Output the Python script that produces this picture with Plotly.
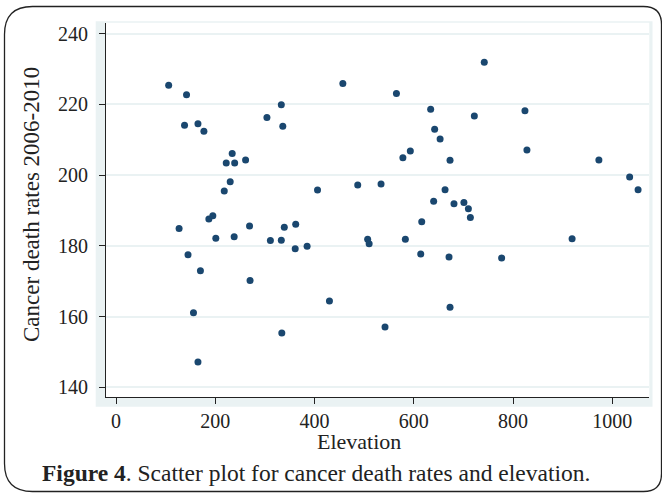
import plotly.graph_objects as go

# Data
elevation = [106, 142, 138, 165, 177, 234, 222, 239, 261, 230, 218, 304, 333, 336, 457, 406, 487, 534,
             187, 195, 127, 269, 339, 362, 201, 238, 311, 333, 361, 385, 507, 510, 145, 170, 270, 430,
             156, 334, 542, 165,
             742, 565, 634, 824, 722, 642, 653, 593, 578, 828, 673, 973, 1035, 1052, 663, 640, 681,
             701, 710, 714, 616, 583, 919, 614, 671, 777, 673]
death_rate = [225.4, 222.7, 214.1, 214.5, 212.4, 206.1, 203.4, 203.4, 204.3, 198.1, 195.5, 216.3, 219.9,
              213.8, 225.9, 195.8, 197.2, 197.5,
              187.6, 188.5, 184.9, 185.6, 185.3, 186.1, 182.2, 182.6, 181.5, 181.6, 179.2, 179.9, 181.9,
              180.6, 177.5, 173.0, 170.2, 164.4, 161.1, 155.4, 157.1, 147.2,
              231.9, 223.1, 218.6, 218.2, 216.7, 213.0, 210.2, 206.8, 204.9, 207.1, 204.2, 204.3, 199.5,
              195.9, 195.9, 192.6, 191.9, 192.3, 190.5, 188.0, 186.8, 181.9, 182.0, 177.7, 176.9, 176.6,
              162.7]
x_ticks = [0, 200, 400, 600, 800, 1000]
y_ticks = [140, 160, 180, 200, 220, 240]
x_title = "Elevation"
y_title = "Cancer death rates 2006-2010"
caption_bold = "Figure 4"
caption_rest = ". Scatter plot for cancer death rates and elevation."

W, H = 662, 493
L, R, T, B = 106, 13, 23, 96
PW, PH = W - L - R, H - T - B


def px(xp):
    return (xp - L) / PW


def py(yp):
    return (H - B - yp) / PH


FONT = "Liberation Serif"
NAVY = "#1a476f"
BAND = "#eaf2f3"

fig = go.Figure()
fig.add_trace(go.Scatter(
    x=elevation, y=death_rate, mode="markers",
    marker=dict(color=NAVY, size=7, line=dict(width=0)),
    showlegend=False, hoverinfo="x+y"))

shapes = [
    dict(type="rect", xref="paper", yref="paper", x0=px(95.7), x1=px(652.5), y0=py(406.7), y1=py(21.3),
         fillcolor=BAND, line=dict(width=0), layer="below"),
    dict(type="rect", xref="paper", yref="paper", x0=px(105.7), x1=px(649.3), y0=py(397.3), y1=py(22.7),
         fillcolor="white", line=dict(width=0), layer="below"),
]

# rounded frame around the whole figure
xl, xr, yt, yb = 4.5, 661.5, 6.5, 491.5
rl, rr = 28, 18
path = (f"M {px(xl + rl)},{py(yt)} L {px(xr - rr)},{py(yt)} "
        f"Q {px(xr)},{py(yt)} {px(xr)},{py(yt + rr)} "
        f"L {px(xr)},{py(yb - rr)} Q {px(xr)},{py(yb)} {px(xr - rr)},{py(yb)} "
        f"L {px(xl + rl)},{py(yb)} Q {px(xl)},{py(yb)} {px(xl)},{py(yb - rl)} "
        f"L {px(xl)},{py(yt + rl)} Q {px(xl)},{py(yt)} {px(xl + rl)},{py(yt)} Z")
shapes.append(dict(type="path", xref="paper", yref="paper", path=path,
                   line=dict(color="#222222", width=1.3), layer="above"))

annotations = [
    dict(text=y_title, xref="paper", yref="paper", x=px(32), y=py(205), textangle=-90,
         showarrow=False, xanchor="center", yanchor="middle",
         font=dict(family=FONT, size=23, color="#222222")),
    dict(text=x_title, xref="paper", yref="paper", x=px(359), y=py(441), showarrow=False,
         xanchor="center", yanchor="middle", font=dict(family=FONT, size=22, color="#222222")),
    dict(text=f"<b>{caption_bold}</b>{caption_rest}", xref="paper", yref="paper", x=px(40), y=py(473),
         showarrow=False, xanchor="left", yanchor="middle",
         font=dict(family=FONT, size=23.5, color="#222222")),
]

fig.update_layout(
    width=W, height=H, margin=dict(l=L, r=R, t=T, b=B, pad=0),
    paper_bgcolor="white", plot_bgcolor="white",
    shapes=shapes, annotations=annotations,
    font=dict(family=FONT, color="#222222"),
    xaxis=dict(range=[-20.3, 1074], tickvals=x_ticks, ticks="outside", ticklen=6, tickwidth=1,
               tickcolor="#222222", showline=True, linecolor="#222222", linewidth=1.2, showgrid=False,
               zeroline=False, tickfont=dict(family=FONT, size=20, color="#222222"),
               ticklabelstandoff=0),
    yaxis=dict(range=[137.3, 243.0], tickvals=y_ticks, ticks="outside", ticklen=6, tickwidth=1,
               tickcolor="#222222", showline=True, linecolor="#222222", linewidth=1.2, showgrid=True,
               gridcolor=BAND, gridwidth=1.6, zeroline=False,
               tickfont=dict(family=FONT, size=20, color="#222222"), ticklabelstandoff=7),
)

fig.write_html("out.html", config={"displayModeBar": False},
               post_script="document.body.style.margin='0';document.body.style.padding='0';"
                           "document.body.style.overflow='hidden';")
